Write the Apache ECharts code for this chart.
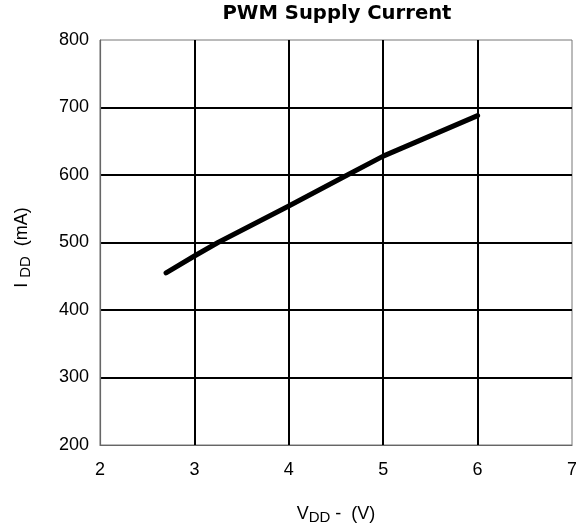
<!DOCTYPE html>
<html><head><meta charset="utf-8">
<script src="https://cdn.jsdelivr.net/npm/echarts@6/dist/echarts.min.js"></script>
<style>html,body{margin:0;padding:0;background:#fff}#c{width:576px;height:528px}</style>
</head><body><div id="c"></div>
<script>
var vdd = [2.7, 3.0, 3.25, 4.0, 4.62, 5.0, 6.0];
var idd = [455, 480, 500, 554, 600, 628, 688];
var xTicks = [2, 3, 4, 5, 6, 7];
var yTicks = [200, 300, 400, 500, 600, 700, 800];
var titleText = 'PWM Supply Current';

var pts = vdd.map(function (v, i) { return [v, idd[i]]; });
var font = 'Liberation Sans, Arial, sans-serif';
var chart = echarts.init(document.getElementById('c'), null, {renderer: 'canvas'});
chart.setOption({
  backgroundColor: '#fff',
  animation: false,
  title: {
    text: titleText, left: 332, top: -1, textAlign: 'center',
    textStyle: {fontFamily: 'DejaVu Sans', fontWeight: 'bold', fontSize: 19.6, color: '#000'}
  },
  grid: {left: 100, right: 4, top: 40, bottom: 83, containLabel: false, outerBoundsMode: 'none',
    show: true, borderColor: '#777', borderWidth: 1, backgroundColor: 'transparent'},
  xAxis: {
    type: 'value', min: xTicks[0], max: xTicks[xTicks.length - 1], interval: 1,
    axisLine: {show: true, lineStyle: {color: '#666', width: 1.2}},
    axisTick: {show: false},
    splitLine: {show: true, showMinLine: false, showMaxLine: false, lineStyle: {color: '#000', width: 2}},
    axisLabel: {fontFamily: font, fontSize: 18, color: '#000', margin: 16},
    name: '{m|V}{s|DD}{m| -  (V)}',
    nameLocation: 'middle', nameGap: 58,
    nameTextStyle: {rich: {
      m: {fontFamily: font, fontSize: 18, color: '#000'},
      s: {fontFamily: font, fontSize: 15, color: '#000', verticalAlign: 'bottom', padding: [7, 0, 0, 0]}
    }}
  },
  yAxis: {
    type: 'value', min: yTicks[0], max: yTicks[yTicks.length - 1], interval: 100,
    axisLine: {show: true, lineStyle: {color: '#666', width: 1.2}},
    axisTick: {show: false},
    splitLine: {show: true, showMinLine: false, showMaxLine: false, lineStyle: {color: '#000', width: 2}},
    axisLabel: {fontFamily: font, fontSize: 18, color: '#000', margin: 11},
    name: '{m|I }{s|DD}{m|  (mA)}',
    nameLocation: 'middle', nameGap: 67, nameRotate: 90,
    nameTextStyle: {padding: [0, 10, 0, 0], rich: {
      m: {fontFamily: font, fontSize: 18, color: '#000'},
      s: {fontFamily: font, fontSize: 15, color: '#000', verticalAlign: 'bottom', padding: [7, 0, 0, 0]}
    }}
  },
  series: [{
    type: 'line', data: pts, showSymbol: false, smooth: false,
    lineStyle: {color: '#000', width: 5, cap: 'round', join: 'round'}
  }]
});
</script></body></html>
